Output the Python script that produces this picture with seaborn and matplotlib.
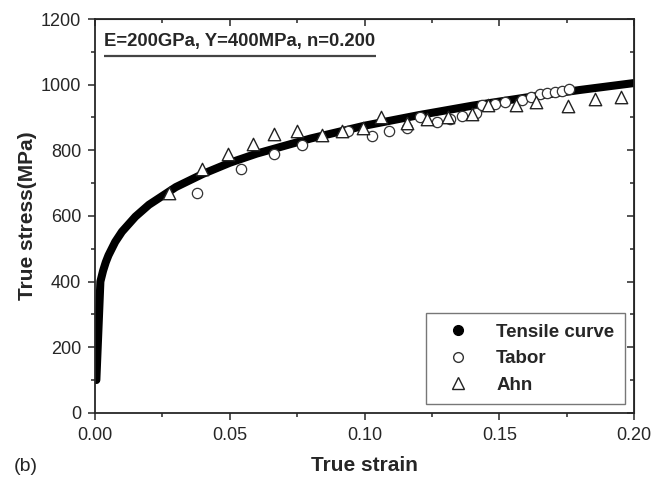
import matplotlib
matplotlib.use("Agg")
import matplotlib.pyplot as plt
from matplotlib.lines import Line2D
from matplotlib.ticker import MultipleLocator
import pandas as pd
import seaborn as sns

# tensile curve
tensile_strain = [0.0005, 0.001, 0.0015, 0.002, 0.003, 0.004, 0.005, 0.0075, 0.01,
                  0.015, 0.02, 0.03, 0.04, 0.05, 0.06, 0.08, 0.10, 0.12, 0.14,
                  0.16, 0.18, 0.20]
tensile_stress = [100, 200, 300, 400, 433, 459, 480, 521, 552,
                  598, 634, 688, 728, 762, 790, 836, 875, 907, 936,
                  961, 984, 1005]

# Tabor (open circles)
tabor_strain = [0.0378, 0.0541, 0.0663, 0.0767, 0.0937, 0.1026, 0.1089, 0.1156,
                0.1204, 0.1267, 0.1315, 0.1363, 0.1415, 0.1437, 0.1485, 0.1519,
                0.1585, 0.1619, 0.1652, 0.1678, 0.1707, 0.1733, 0.1759]
tabor_stress = [670, 743, 789, 816, 859, 844, 859, 868,
                902, 886, 896, 905, 914, 938, 941, 947,
                953, 963, 972, 975, 978, 981, 987]

# Ahn (open triangles)
ahn_strain = [0.0274, 0.0396, 0.0493, 0.0585, 0.0663, 0.0748, 0.0841, 0.0915,
              0.0993, 0.1059, 0.1156, 0.1230, 0.1311, 0.1400, 0.1459, 0.1563,
              0.1637, 0.1756, 0.1856, 0.1952]
ahn_stress = [670, 743, 789, 819, 850, 859, 847, 859,
              868, 902, 883, 896, 902, 911, 938, 938,
              947, 935, 956, 963]

sns.set_style("ticks")
plt.rcParams["font.family"] = ["Liberation Sans", "DejaVu Sans"]

tensile = pd.DataFrame({"strain": tensile_strain, "stress": tensile_stress})
tabor = pd.DataFrame({"strain": tabor_strain, "stress": tabor_stress})
ahn = pd.DataFrame({"strain": ahn_strain, "stress": ahn_stress})

fig = plt.figure(figsize=(6.69, 4.88), dpi=100)
ax = fig.add_axes([0.142, 0.154, 0.806, 0.807])

sns.lineplot(data=tensile, x="strain", y="stress", ax=ax, color="black",
             linewidth=5.8, sort=False, solid_capstyle="round", zorder=2)
sns.scatterplot(data=tabor, x="strain", y="stress", ax=ax, marker="o", s=55,
                facecolor="white", edgecolor="#333333", linewidth=0.9, zorder=3)
sns.scatterplot(data=ahn, x="strain", y="stress", ax=ax, marker="^", s=80,
                facecolor="white", edgecolor="#222222", linewidth=1.0, zorder=3)

ax.set_xlim(0, 0.2)
ax.set_ylim(0, 1200)
ax.xaxis.set_major_locator(MultipleLocator(0.05))
ax.xaxis.set_minor_locator(MultipleLocator(0.025))
ax.yaxis.set_major_locator(MultipleLocator(200))
ax.yaxis.set_minor_locator(MultipleLocator(100))
ax.xaxis.set_major_formatter(plt.FormatStrFormatter("%.2f"))
ax.tick_params(which="major", direction="out", length=5, width=1.1,
               labelsize=13, pad=5)
ax.tick_params(which="minor", direction="out", length=3, width=1.1)
for sp in ax.spines.values():
    sp.set_visible(True)
    sp.set_linewidth(1.3)

# mirrored inward ticks on top and right
top = ax.secondary_xaxis("top")
top.xaxis.set_major_locator(MultipleLocator(0.05))
top.xaxis.set_minor_locator(MultipleLocator(0.025))
top.tick_params(which="major", direction="in", length=5, width=1.1, labeltop=False)
top.tick_params(which="minor", direction="in", length=3, width=1.1)
right = ax.secondary_yaxis("right")
right.yaxis.set_major_locator(MultipleLocator(200))
right.yaxis.set_minor_locator(MultipleLocator(100))
right.tick_params(which="major", direction="in", length=5, width=1.1, labelright=False)
right.tick_params(which="minor", direction="in", length=3, width=1.1)

ax.set_xlabel("True strain", fontsize=15, fontweight="bold", labelpad=9)
ax.set_ylabel("True stress(MPa)", fontsize=15, fontweight="bold", labelpad=3)

ax.text(0.017, 0.922, "E=200GPa, Y=400MPa, n=0.200", transform=ax.transAxes,
        fontsize=13.3, fontweight="bold", ha="left", va="bottom")
ax.plot([0.017, 0.521], [0.906, 0.906], transform=ax.transAxes, color="#444444",
        linewidth=1.6, solid_capstyle="butt")

fig.text(0.02, 0.035, "(b)", fontsize=14)

handles = [
    Line2D([], [], linestyle="none", marker="o", markersize=7,
           markerfacecolor="black", markeredgecolor="black"),
    Line2D([], [], linestyle="none", marker="o", markersize=7,
           markerfacecolor="white", markeredgecolor="#333333"),
    Line2D([], [], linestyle="none", marker="^", markersize=9,
           markerfacecolor="white", markeredgecolor="#222222"),
]
leg = ax.legend(handles, ["Tensile curve", "Tabor", "Ahn"], loc="lower right",
                bbox_to_anchor=(0.982, 0.022), frameon=True, fancybox=False,
                prop={"weight": "bold", "size": 13.5}, handletextpad=0.9,
                handlelength=2.3, borderpad=0.55, labelspacing=0.5,
                borderaxespad=0)
leg.get_frame().set_edgecolor("#555555")
leg.get_frame().set_linewidth(1.0)

fig.savefig("out.png", dpi=100)
